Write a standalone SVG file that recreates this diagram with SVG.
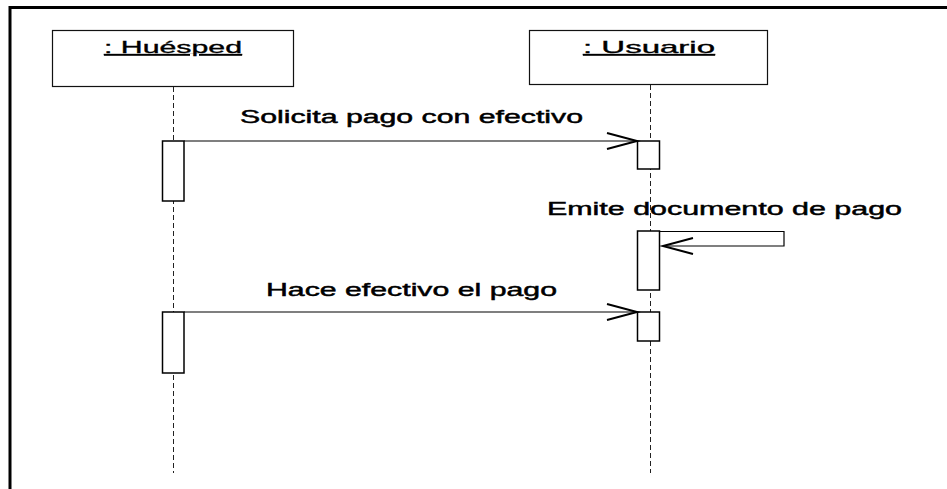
<svg xmlns="http://www.w3.org/2000/svg" width="947" height="489" viewBox="0 0 947 489">
<style>
.frame{stroke:#000;stroke-width:3;fill:none}
.obj{fill:#fff;stroke:#111;stroke-width:1.2}
.life{stroke:#222;stroke-width:1;stroke-dasharray:5,3;fill:none}
.act{fill:#fff;stroke:#000;stroke-width:1.5}
.msg{stroke:#000;stroke-width:1.2;fill:none}
.head{stroke:#000;stroke-width:2;fill:none}
.lbl{font-family:"Liberation Sans",Arial,sans-serif;font-size:18px;fill:#000;stroke:#000;stroke-width:0.45}
.nm{font-family:"Liberation Sans",Arial,sans-serif;font-size:17px;fill:#000;stroke:#000;stroke-width:0.35;text-decoration:underline}
</style>
<rect width="947" height="489" fill="#fff"/>
<path class="frame" d="M10,489 V7.5 H947"/>
<g id="huesped">
<rect class="obj" x="52.5" y="30.5" width="241" height="56"/>
<text class="nm" x="173" y="53" text-anchor="middle" textLength="138" lengthAdjust="spacingAndGlyphs">: Huésped</text>
<line class="life" x1="173.5" y1="87" x2="173.5" y2="473"/>
<rect class="act" x="162.5" y="141" width="21.5" height="60"/>
<rect class="act" x="162.5" y="312" width="21.5" height="61"/>
</g>
<g id="usuario">
<rect class="obj" x="529.5" y="30.5" width="238" height="54"/>
<text class="nm" x="649" y="53" text-anchor="middle" textLength="132" lengthAdjust="spacingAndGlyphs">: Usuario</text>
<line class="life" x1="650.5" y1="85" x2="650.5" y2="473"/>
<rect class="act" x="637.5" y="141" width="22" height="28"/>
<rect class="act" x="637.5" y="231" width="22" height="59"/>
<rect class="act" x="637.5" y="312" width="22" height="29"/>
</g>
<g id="connectors">
<line class="msg" x1="184" y1="141" x2="637" y2="141"/>
<polyline class="head" points="607,133 637,141 607,149"/>
<text class="lbl" x="240" y="123" textLength="343" lengthAdjust="spacingAndGlyphs">Solicita pago con efectivo</text>
<polyline class="msg" points="660,231.5 784,231.5 784,246 663,246"/>
<polyline class="head" points="693,238 663,246 693,254"/>
<text class="lbl" x="547" y="215" textLength="355" lengthAdjust="spacingAndGlyphs">Emite documento de pago</text>
<line class="msg" x1="184" y1="312" x2="637" y2="312"/>
<polyline class="head" points="607,304 637,312 607,320"/>
<text class="lbl" x="266" y="296" textLength="291" lengthAdjust="spacingAndGlyphs">Hace efectivo el pago</text>
</g>
</svg>
